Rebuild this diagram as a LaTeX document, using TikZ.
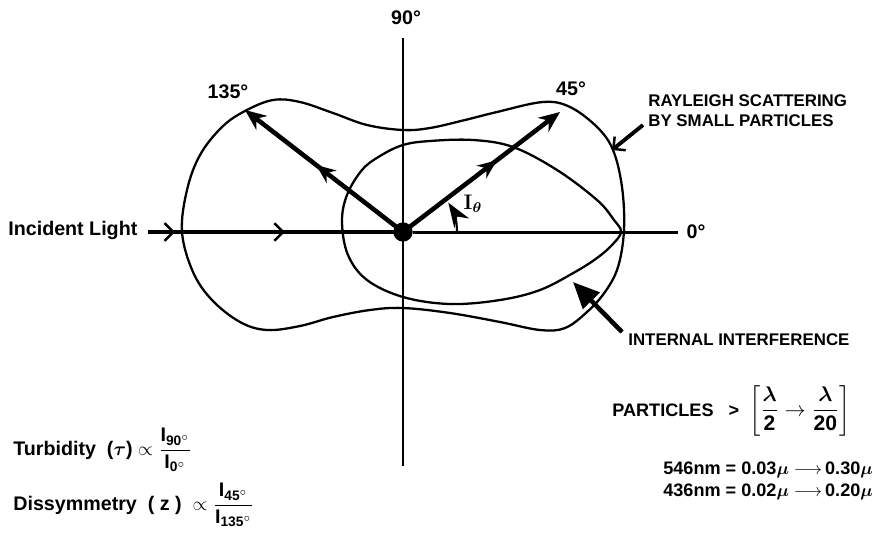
\documentclass[tikz,border=0pt]{standalone}
\usepackage{amsmath}
\usepackage{fontspec}
\setmainfont{Liberation Sans}
\usetikzlibrary{arrows.meta,decorations.markings}

\tikzset{
  ray/.style={line width=2.6pt},
  axis/.style={line width=1.7pt},
  lobe/.style={line width=1.3pt},
  midtip/.style={postaction={decorate,decoration={markings,
      mark=at position #1 with {\arrow{Stealth[length=11pt,width=9pt]}}}}},
  midbarb/.style={postaction={decorate,decoration={markings,
      mark=at position #1 with {\arrow{Straight Barb[length=5pt,width=10pt,line width=1.4pt]}}}}},
  lbl/.style={font=\fontsize{11.2}{12}\selectfont\bfseries, inner sep=0pt},
  caps/.style={font=\fontsize{9.6}{11.5}\selectfont\bfseries, inner sep=0pt, align=left},
  small/.style={font=\fontsize{10.3}{11}\selectfont\bfseries, inner sep=0pt},
}

\begin{document}
\begin{tikzpicture}[x=0.02cm, y=-0.02cm]
\useasboundingbox (0,0) rectangle (882,538);

% main points
\node[circle, fill, inner sep=0pt, minimum size=11pt] (o) at (403,232) {};
\coordinate (in) at (148,232);
\coordinate (zero) at (678,232);
\coordinate (top) at (403,38);
\coordinate (bot) at (403,466);
\coordinate (p135) at (245,110);
\coordinate (p45) at (560,112);

% Rayleigh curve
\draw[lobe] plot[smooth cycle, tension=0.6] coordinates {
  (182,232) (187,190) (200,155) (222,127) (245,111) (273,100) (300,102)
  (333,113) (367,125) (403,130) (430,128) (465,120) (497,112) (543,102)
  (570,107) (597,127) (613,150) (622,187) (624,230) (618,267) (605,292)
  (587,312) (565,328) (540,330) (500,322) (450,313) (403,308) (370,310)
  (333,317) (300,326) (267,330) (240,322) (212,300) (193,272)};
% interference curve
\draw[lobe] plot[smooth cycle, tension=0.6] coordinates {
  (342,222) (347,195) (362,170) (380,156) (403,145) (430,141) (473,140)
  (513,147) (557,170) (597,200) (614,220) (621,232) (612,245) (597,258)
  (575,272) (540,290) (500,300) (450,304) (403,297) (367,280) (348,255)};

% axes and rays
\draw[axis] (top) -- (bot);
\draw[axis] (o) -- (zero);
\draw[ray, midbarb=0.106, midbarb=0.537] (in) -- (o.center);
\draw[ray, midtip=0.55, -{Stealth[length=12pt,width=10pt]}] (o.center) -- (p135);
\draw[ray, midtip=0.6, -{Stealth[length=12pt,width=10pt]}] (o.center) -- (p45);
\draw[line width=1.2pt, -{Stealth[length=14pt,width=10pt]}] (457,232) arc[start angle=0, end angle=-33, radius=54];

% labels
\node[lbl, anchor=west] (inc) at (8,230) {Incident Light};
\node[lbl] (l90) at (406,18) {90°};
\node[lbl] (l135) at (228,92) {135°};
\node[lbl] (l45) at (571,89) {45°};
\node[lbl] (l0) at (696,232) {0°};
\node[font=\fontsize{12}{12}\selectfont\boldmath] (ith) at (473,204) {$\mathbf{I}_{\theta}$};

% pointers
\node[caps, anchor=west] (rayl) at (648,111) {RAYLEIGH SCATTERING\\BY SMALL PARTICLES};
\coordinate (rfrom) at (643,125);
\coordinate (rtip) at (612,150);
\draw[line width=2.2pt, -{Straight Barb[length=5pt,width=10pt,line width=1.4pt]}] (rfrom) -- (rtip);
\node[caps, anchor=west] (intf) at (628,340) {INTERNAL INTERFERENCE};
\coordinate (ifrom) at (622,332);
\coordinate (itip) at (573,282);
\draw[line width=2.6pt, -{Triangle[length=15pt,width=13pt]}] (ifrom) -- (itip);

% formulas
\node[lbl, anchor=base west] (turb) at (13,455) {Turbidity\ \ ($\boldsymbol\tau$) $\propto \dfrac{\mathbf{I}_{\mathbf{90}^\circ}}{\mathbf{I}_{\mathbf{0}^\circ}}$};
\node[lbl, anchor=base west] (diss) at (13,510) {Dissymmetry\ \ ( z )\ \ $\propto \dfrac{\mathbf{I}_{\mathbf{45}^\circ}}{\mathbf{I}_{\mathbf{135}^\circ}}$};
\node[small, anchor=base west] (part) at (612,416) {PARTICLES\ \ \ >\ \ {\fontsize{12}{14}\selectfont$\left[\dfrac{\boldsymbol\lambda}{\text{\bfseries 2}}\rightarrow\dfrac{\boldsymbol\lambda}{\text{\bfseries 20}}\right]$}};
\node[small, anchor=base west] (n546) at (663,474) {546nm = 0.03$\boldsymbol\mu\longrightarrow$\,0.30$\boldsymbol\mu$};
\node[small, anchor=base west] (n436) at (663,496) {436nm = 0.02$\boldsymbol\mu\longrightarrow$\,0.20$\boldsymbol\mu$};
\end{tikzpicture}
\end{document}
